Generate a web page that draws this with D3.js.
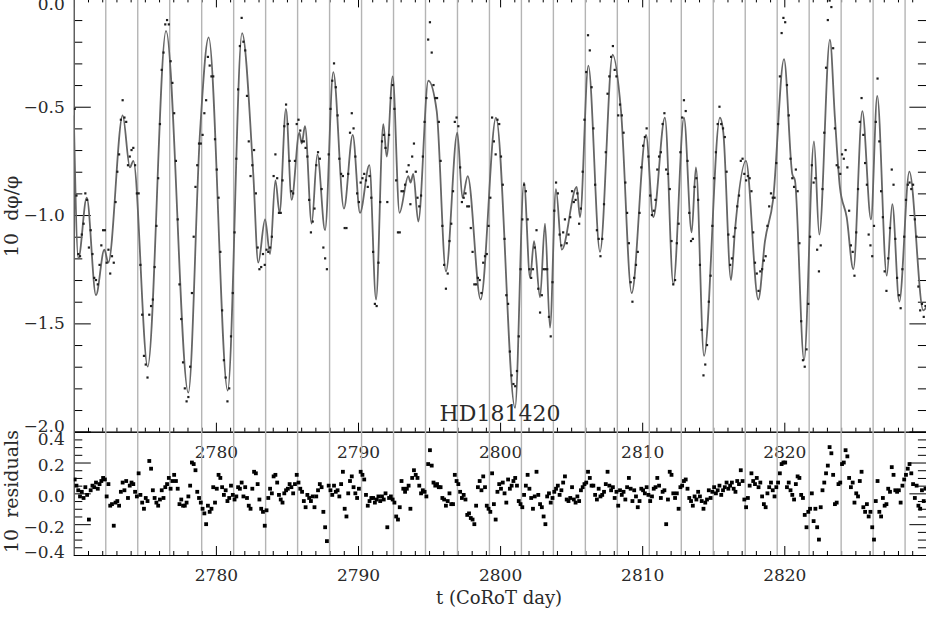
<!DOCTYPE html>
<html><head><meta charset="utf-8">
<script src="https://cdn.jsdelivr.net/npm/d3@7"></script>
<style>
html,body{margin:0;padding:0;background:#fff;}
svg{display:block;}
</style></head><body>
<svg id="c" width="926" height="617"></svg>
<script>
// ---- model curve (knots) ----
const modelT = [2770.00,2770.32,2770.91,2771.56,2772.15,2772.43,2773.44,2773.95,2774.19,2775.20,
2776.49,2778.06,2778.88,2779.49,2780.83,2781.84,2782.63,2782.98,2783.46,2783.81,
2784.19,2784.48,2784.93,2785.33,2785.87,2786.04,2786.27,2786.74,2787.14,2787.68,
2788.26,2789.01,2789.63,2790.14,2790.80,2791.27,2791.78,2792.02,2792.44,2792.92,
2793.54,2793.70,2793.89,2794.24,2794.95,2795.54,2796.19,2796.99,2797.35,2797.72,
2798.63,2799.71,2801.05,2801.68,2802.11,2802.39,2802.81,2803.16,2803.51,2803.93,
2804.34,2805.39,2805.62,2806.21,2807.03,2807.92,2808.51,2809.26,2810.27,2810.78,
2811.60,2812.19,2812.94,2813.48,2813.78,2814.35,2815.47,2815.71,2816.25,2816.53,
2817.30,2818.17,2818.64,2819.21,2819.98,2820.56,2820.75,2821.39,2822.09,2822.46,
2823.21,2823.56,2823.91,2824.39,2824.86,2825.49,2826.10,2826.54,2827.21,2827.60,
2828.09,2828.80,2829.78,2830.04];
const modelV = [-0.54,-1.20,-0.92,-1.37,-1.16,-1.22,-0.54,-0.78,-0.75,-1.70,
-0.15,-1.82,-0.62,-0.18,-1.81,-0.16,-0.81,-1.22,-1.02,-1.18,
-0.84,-0.99,-0.51,-0.93,-0.62,-0.67,-0.59,-1.04,-0.72,-1.07,
-0.34,-0.97,-0.63,-0.99,-0.77,-1.39,-0.58,-0.73,-0.36,-0.99,
-0.82,-0.85,-0.81,-1.03,-0.38,-0.52,-1.26,-0.62,-0.92,-0.82,
-1.39,-0.55,-1.89,-0.85,-1.29,-1.12,-1.38,-1.04,-1.52,-0.88,
-1.16,-0.87,-1.01,-0.31,-1.17,-0.26,-0.52,-1.36,-0.63,-1.01,
-0.55,-1.32,-0.55,-1.08,-0.78,-1.65,-0.55,-0.62,-1.30,-1.07,
-0.75,-1.39,-1.12,-0.93,-0.28,-0.81,-0.84,-1.67,-0.66,-1.09,
-0.19,-0.55,-0.87,-1.01,-1.25,-0.52,-1.02,-0.45,-1.28,-0.95,
-1.40,-0.80,-1.44,-1.42];

// ---- observations: regular cadence, 8 samples per day ----
const sampleStart = 2770.0625, sampleStep = 0.125;
const obs = [
-0.51,-0.91,-1.18,-1.19,-1.09,-1.04,-0.90,-0.93,
-1.15,-1.07,-1.18,-1.29,-1.30,-1.32,-1.23,-1.14,
-1.07,-1.07,-1.22,-1.16,-1.27,-1.19,-1.22,-0.94,
-0.80,-0.72,-0.56,-0.47,-0.55,-0.57,-0.77,-0.73,
-0.70,-0.69,-0.77,-0.90,-0.90,-1.23,-1.46,-1.65,
-1.69,-1.75,-1.46,-1.42,-1.39,-1.24,-1.05,-0.83,
-0.58,-0.33,-0.25,-0.12,-0.10,-0.12,-0.29,-0.39,
-0.53,-0.75,-1.02,-1.32,-1.48,-1.68,-1.80,-1.86,
-1.84,-1.70,-1.36,-1.10,-0.87,-0.77,-0.67,-0.67,
-0.63,-0.53,-0.47,-0.27,-0.31,-0.36,-0.36,-0.65,
-0.79,-0.92,-1.17,-1.44,-1.67,-1.75,-1.86,-1.80,
-1.56,-1.36,-1.08,-0.74,-0.42,-0.22,-0.09,-0.20,
-0.24,-0.45,-0.66,-0.82,-0.77,-0.70,-0.90,-1.15,
-1.25,-1.24,-1.18,-1.23,-1.16,-1.17,-1.15,-1.10,
-0.82,-0.72,-0.83,-0.99,-0.99,-0.84,-0.59,-0.49,
-0.58,-0.75,-0.89,-0.90,-0.75,-0.58,-0.56,-0.61,
-0.66,-0.66,-0.69,-0.73,-0.93,-1.08,-1.03,-0.97,
-0.77,-0.71,-0.74,-0.88,-1.15,-1.20,-1.25,-0.72,
-0.51,-0.38,-0.30,-0.41,-0.54,-0.74,-0.81,-0.82,
-1.06,-1.06,-0.81,-0.62,-0.53,-0.60,-0.73,-0.90,
-0.94,-0.85,-0.83,-0.81,-0.84,-0.87,-0.82,-0.92,
-1.17,-1.41,-1.42,-1.22,-0.94,-0.66,-0.63,-0.69,
-0.94,-0.63,-0.46,-0.40,-0.51,-0.84,-1.08,-1.08,
-0.89,-0.89,-0.86,-0.80,-0.77,-0.95,-0.73,-0.67,
-0.80,-0.92,-0.96,-0.91,-0.73,-0.57,-0.46,-0.19,
-0.11,-0.25,-0.40,-0.46,-0.46,-0.57,-0.75,-1.05,
-1.23,-1.34,-1.27,-1.12,-1.04,-0.89,-0.57,-0.55,
-0.59,-0.78,-0.94,-0.92,-0.90,-0.96,-0.96,-1.06,
-1.17,-1.32,-1.32,-1.29,-1.30,-1.36,-1.22,-1.19,
-1.18,-1.05,-0.92,-0.55,-0.66,-0.72,-0.56,-0.58,
-0.73,-0.86,-1.11,-1.37,-1.41,-1.63,-1.74,-1.78,
-1.79,-1.72,-1.56,-1.25,-1.02,-0.86,-0.89,-1.02,
-1.25,-1.29,-1.25,-1.15,-1.07,-1.34,-1.45,-1.37,
-1.25,-1.25,-1.25,-1.47,-1.56,-1.31,-0.98,-0.85,
-0.90,-1.09,-1.14,-1.08,-1.02,-1.13,-1.09,-1.01,
-0.89,-0.94,-0.93,-0.90,-1.04,-0.97,-0.80,-0.56,
-0.34,-0.17,-0.24,-0.41,-0.60,-0.86,-1.07,-1.11,
-1.19,-1.11,-0.95,-0.71,-0.44,-0.36,-0.27,-0.22,
-0.33,-0.36,-0.54,-0.49,-0.54,-0.62,-0.85,-0.99,
-1.13,-1.31,-1.40,-1.29,-1.23,-1.17,-0.99,-0.78,
-0.68,-0.64,-0.60,-0.73,-0.91,-1.00,-0.98,-0.93,
-0.79,-0.73,-0.71,-0.58,-0.53,-0.79,-0.81,-0.88,
-1.12,-1.32,-1.30,-1.13,-1.04,-0.71,-0.55,-0.47,
-0.52,-0.75,-0.99,-1.12,-1.11,-0.87,-0.83,-0.93,
-1.23,-1.53,-1.74,-1.69,-1.60,-1.40,-1.28,-1.05,
-0.83,-0.71,-0.58,-0.50,-0.58,-0.60,-0.64,-0.80,
-1.09,-1.23,-1.20,-1.10,-1.06,-0.96,-0.91,-0.75,
-0.74,-0.81,-0.84,-0.82,-0.83,-0.89,-1.08,-1.22,
-1.27,-1.35,-1.26,-1.25,-1.21,-1.19,-1.05,-0.96,
-0.90,-0.92,-0.92,-0.76,-0.58,-0.36,-0.16,-0.09,
-0.11,-0.40,-0.54,-0.74,-0.83,-0.87,-0.79,-0.89,
-1.13,-1.49,-1.67,-1.70,-1.62,-1.41,-1.10,-0.77,
-0.85,-0.83,-1.16,-1.26,-1.14,-0.88,-0.62,-0.32,
-0.10,-0.01,-0.04,-0.23,-0.60,-0.77,-0.78,-0.81,
-0.72,-0.74,-0.70,-0.78,-0.98,-1.14,-1.17,-1.28,
-1.08,-0.88,-0.57,-0.46,-0.63,-0.76,-0.86,-1.09,
-1.14,-1.19,-1.05,-0.57,-0.37,-0.66,-0.89,-1.01,
-1.26,-1.35,-1.20,-1.06,-0.79,-0.86,-1.11,-1.29,
-1.37,-1.43,-1.25,-1.10,-0.93,-0.86,-0.85,-0.88,
-0.86,-1.02,-1.10,-1.33,-1.44,-1.41,-1.47,-1.42];
const resid = [
0.09,0.05,0.02,-0.02,0.01,-0.03,0.04,-0.01,
-0.17,0.02,0.05,0.04,0.07,0.03,0.06,0.08,
0.10,0.09,-0.02,0.06,-0.08,-0.07,-0.21,-0.06,
-0.05,-0.08,0.01,0.07,0.02,0.08,-0.03,0.05,
0.07,0.06,0.01,-0.02,0.13,-0.01,-0.06,-0.10,
-0.03,-0.05,0.21,0.16,0.02,-0.03,-0.06,-0.08,
-0.04,0.02,-0.03,0.04,0.06,0.10,0.03,0.08,
0.12,0.08,0.03,-0.07,-0.04,-0.08,-0.08,-0.06,
-0.02,0.05,0.20,0.19,0.15,0.01,-0.03,-0.06,
-0.10,-0.13,-0.20,-0.08,-0.12,-0.10,0.04,-0.06,
0.03,0.12,0.10,0.04,-0.01,0.02,-0.05,-0.03,
0.05,-0.01,-0.04,-0.02,0.04,0.03,0.07,-0.02,
0.04,-0.03,-0.08,-0.10,0.03,0.14,0.13,0.06,
-0.04,-0.10,-0.12,-0.21,-0.11,-0.03,0.03,0.00,
0.11,0.12,0.07,-0.01,-0.04,-0.06,0.00,0.02,
0.03,0.06,0.04,0.00,0.06,0.12,0.07,0.03,
0.01,-0.05,-0.09,-0.01,-0.03,-0.05,-0.02,-0.09,
-0.02,0.02,0.06,0.04,-0.12,-0.22,-0.31,0.05,
0.02,-0.01,0.05,0.01,0.02,-0.02,0.06,0.14,
-0.10,-0.15,0.00,0.08,0.11,0.04,0.00,-0.03,
0.03,0.14,0.12,0.09,-0.01,-0.08,-0.05,-0.03,
-0.03,-0.06,-0.04,-0.02,-0.05,-0.02,-0.04,0.00,
-0.22,-0.03,-0.02,-0.04,-0.06,-0.15,-0.17,-0.09,
0.08,0.03,0.01,0.03,0.05,-0.10,0.10,0.15,
0.12,0.10,0.05,0.00,0.02,0.01,-0.02,0.19,
0.28,0.18,0.07,0.05,0.06,0.04,0.04,-0.03,
-0.04,-0.08,-0.05,0.00,-0.07,-0.07,0.12,0.08,
0.06,0.01,-0.03,-0.01,-0.04,-0.14,-0.13,-0.16,
-0.17,-0.20,-0.08,0.04,0.08,0.02,0.11,0.04,
-0.08,-0.10,-0.12,0.13,-0.07,-0.17,0.01,0.06,
0.03,0.07,0.00,-0.06,0.09,0.03,0.05,0.08,
0.10,0.05,-0.05,-0.07,-0.09,-0.01,0.05,0.12,
0.03,-0.03,-0.10,-0.02,0.14,-0.01,-0.07,-0.09,
-0.15,-0.20,-0.02,0.00,-0.06,-0.03,0.01,0.03,
0.05,-0.01,0.02,0.07,0.11,-0.04,-0.05,-0.03,
0.04,-0.04,-0.06,-0.02,-0.05,0.02,0.04,0.06,
0.07,0.14,0.10,0.05,0.05,-0.01,-0.04,0.03,
-0.02,-0.01,0.01,0.06,0.14,0.05,0.02,0.04,
-0.03,0.01,-0.08,0.02,-0.01,0.01,-0.04,0.04,
0.10,0.03,-0.05,0.02,-0.02,-0.09,-0.05,0.03,
0.02,0.00,0.04,-0.01,-0.05,-0.02,0.03,0.04,
0.10,0.05,-0.03,0.01,0.02,-0.20,-0.04,0.14,
0.12,0.00,-0.03,0.00,-0.10,0.04,0.05,0.08,
0.09,0.03,-0.03,-0.05,-0.08,-0.02,-0.04,0.01,
-0.02,-0.05,-0.10,-0.06,-0.04,0.02,-0.03,0.01,
0.04,0.00,0.02,0.05,-0.01,0.02,0.04,0.07,
0.03,0.05,0.07,0.03,0.01,0.08,0.06,0.15,
0.08,-0.04,-0.09,-0.03,0.05,0.13,0.08,0.06,
0.10,0.04,0.07,-0.02,-0.07,-0.09,0.00,0.04,
0.07,0.02,-0.02,0.04,0.07,0.13,0.19,0.20,
0.20,0.04,0.07,0.02,-0.01,-0.04,0.06,0.11,
0.10,-0.01,-0.03,-0.14,-0.22,-0.12,-0.10,0.00,
-0.18,-0.10,-0.22,-0.30,-0.09,0.02,0.07,0.13,
0.18,0.30,0.26,0.12,-0.07,-0.06,0.06,0.07,
0.19,0.20,0.28,0.24,0.10,0.04,0.07,-0.06,
0.00,-0.02,0.08,0.14,-0.09,-0.12,-0.07,-0.15,
-0.12,-0.22,-0.30,-0.05,0.08,-0.12,-0.15,-0.03,
-0.08,-0.07,0.03,0.01,0.17,0.12,0.02,0.01,
0.02,-0.06,0.05,0.09,0.12,0.16,0.19,0.13,
0.06,-0.03,0.05,-0.08,-0.10,0.02,-0.05,0.03];

// grey vertical reference lines (days)
const gridDays = [2770.00,2772.25,2774.50,2776.75,2779.00,2781.25,2783.50,2785.75,2788.00,
2790.25,2792.50,2794.75,2797.00,2799.25,2801.50,2803.75,2806.00,2808.25,2810.50,
2812.75,2815.00,2817.25,2819.50,2821.75,2824.00,2826.25,2828.50];
const xLabelTicks = [2780, 2790, 2800, 2810, 2820];
const yTopTicks = [0, -0.5, -1.0, -1.5, -2.0];
const yResTicks = [0.4, 0.2, 0.0, -0.2, -0.4];
const starName = "HD181420";
const xTitle = "t (CoRoT day)";

// ---- layout ----
const L = 73.8, R = 926.4, topT = -1.6, topB = 431.7, resB = 555;
const FONT = "DejaVu Serif, serif";
const TXT = "#2a2a2a";

const x = d3.scaleLinear().domain([2770, 2830]).range([L, R]);
const yTop = d3.scaleLinear().domain([-2, 0]).range([topB, topT]);
const yRes = d3.scaleLinear().domain([-0.4, 0.4]).range([resB, topB]);

const svg = d3.select("#c");
const defs = svg.append("defs");
defs.append("clipPath").attr("id","clipTop").append("rect")
  .attr("x", L).attr("y", topT).attr("width", R - L).attr("height", topB - topT);
defs.append("clipPath").attr("id","clipRes").append("rect")
  .attr("x", L).attr("y", topB).attr("width", R - L).attr("height", resB - topB);

const fmt1 = d3.format(".1f");
const blank = () => "";
const minorX = x.ticks(60).filter(d => d % 10 !== 0);
const majorX = x.ticks(6);
const minorYTop = yTop.ticks(20).filter(d => Math.abs(d*2 - Math.round(d*2)) > 1e-6);
const minorYRes = d3.range(-8, 9).map(k => k * 0.05).filter(d => Math.abs(d*5 - Math.round(d*5)) > 1e-6);

function axis(gen, values, size, tr, fmtFn, pad) {
  const a = gen.tickValues(values).tickSize(size).tickSizeOuter(0)
    .tickPadding(pad || 0).tickFormat(fmtFn || blank);
  const g = svg.append("g").attr("transform", tr).call(a)
    .attr("font-family", FONT).attr("font-size", 17);
  g.select(".domain").attr("stroke", "#000").attr("stroke-width", 1);
  g.selectAll(".tick line").attr("stroke", "#000").attr("stroke-width", 1);
  g.selectAll(".tick text").attr("fill", TXT);
  return g;
}

// ---- axes: top panel ----
axis(d3.axisLeft(yTop), yTopTicks, -17, `translate(${L},0)`, fmt1, 9)
  .selectAll(".tick text").attr("y", d => d === 0 ? 6 : (d === -2 ? -6 : 0));
axis(d3.axisLeft(yTop), minorYTop, -8.5, `translate(${L},0)`);
axis(d3.axisRight(yTop), yTopTicks, -17, `translate(${R},0)`);
axis(d3.axisRight(yTop), minorYTop, -8.5, `translate(${R},0)`);
axis(d3.axisTop(x), majorX, -9, `translate(0,${topT})`);
axis(d3.axisTop(x), minorX, -4, `translate(0,${topT})`);
axis(d3.axisBottom(x), xLabelTicks, -9, `translate(0,${topB})`, d3.format("d"), 14);
axis(d3.axisBottom(x), minorX, -4, `translate(0,${topB})`);

// ---- axes: residual panel ----
axis(d3.axisLeft(yRes), yResTicks, -17, `translate(${L},0)`, fmt1, 9)
  .selectAll(".tick text").attr("y", d => d === 0.4 ? 7 : (d === -0.4 ? -3 : 3));
axis(d3.axisLeft(yRes), minorYRes, -8.5, `translate(${L},0)`);
axis(d3.axisRight(yRes), yResTicks, -17, `translate(${R},0)`);
axis(d3.axisRight(yRes), minorYRes, -8.5, `translate(${R},0)`);
axis(d3.axisBottom(x), xLabelTicks, -9, `translate(0,${resB})`, d3.format("d"), 14);
axis(d3.axisBottom(x), minorX, -4, `translate(0,${resB})`);

// ---- grey vertical lines ----
svg.append("g").selectAll("line").data(gridDays).join("line")
  .attr("x1", d => x(d)).attr("x2", d => x(d))
  .attr("y1", topT).attr("y2", resB)
  .attr("stroke", "#b4b4b4").attr("stroke-width", 1.4);

// ---- model curve ----
const knots = modelT.map((t, i) => [t, modelV[i]]);
svg.append("path").attr("clip-path", "url(#clipTop)")
  .attr("d", d3.line().x(d => x(d[0])).y(d => yTop(d[1])).curve(d3.curveMonotoneX)(knots))
  .attr("fill", "none").attr("stroke", "#666").attr("stroke-width", 1.8);

// ---- observation dots ----
const samples = obs.map((v, i) => ({t: sampleStart + i * sampleStep, v: v, r: resid[i]}));
svg.append("g").attr("clip-path", "url(#clipTop)").selectAll("rect").data(samples).join("rect")
  .attr("x", d => x(d.t) - 1.1).attr("y", d => yTop(d.v) - 1.1)
  .attr("width", 2.2).attr("height", 2.2).attr("fill", "#1e1e1e");

// ---- residual squares ----
svg.append("g").attr("clip-path", "url(#clipRes)").selectAll("rect").data(samples).join("rect")
  .attr("x", d => x(d.t) - 1.9).attr("y", d => yRes(d.r) - 1.9)
  .attr("width", 3.8).attr("height", 3.8).attr("fill", "#000");

// ---- texts ----
svg.append("text").attr("x", 500).attr("y", 421).attr("text-anchor", "middle")
  .attr("font-family", FONT).attr("font-size", 22).attr("fill", TXT).text(starName);
svg.append("text").attr("x", 499).attr("y", 604).attr("text-anchor", "middle")
  .attr("font-family", FONT).attr("font-size", 18).attr("fill", TXT).text(xTitle);

const t1 = svg.append("text").attr("transform", "translate(18,257) rotate(-90)")
  .attr("font-family", FONT).attr("font-size", 19).attr("fill", TXT);
t1.append("tspan").text("10");
t1.append("tspan").attr("dx", 12).text("dφ/φ");
const t2 = svg.append("text").attr("transform", "translate(18,553) rotate(-90)")
  .attr("font-family", FONT).attr("font-size", 19).attr("fill", TXT);
t2.append("tspan").text("10");
t2.append("tspan").attr("dx", 11).text("residuals");
</script>
</body></html>
